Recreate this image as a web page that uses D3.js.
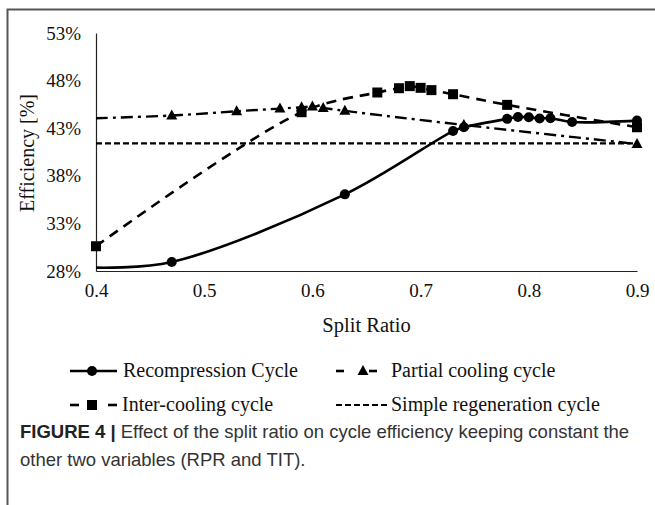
<!DOCTYPE html>
<html>
<head>
<meta charset="utf-8">
<script src="https://cdn.jsdelivr.net/npm/d3@7"></script>
<style>
  body { margin: 0; background: #fff; }
  svg { display: block; }
  text { font-family: "Liberation Serif", "Times New Roman", serif; fill: #111; }
  .caption text { font-family: "Liberation Sans", Arial, sans-serif; fill: #333; }
</style>
</head>
<body>
<svg id="chart" width="655" height="505"></svg>
<script>
// --- data ---
const recompX = [0.40, 0.47, 0.63, 0.73, 0.74, 0.78, 0.79, 0.80, 0.81, 0.82, 0.84, 0.90];
const recompY = [28.35, 28.95, 36.05, 42.7, 43.1, 43.98, 44.18, 44.15, 44.02, 44.05, 43.65, 43.8];

const partialX = [0.40, 0.47, 0.53, 0.57, 0.59, 0.60, 0.61, 0.63, 0.74, 0.90];
const partialY = [44.05, 44.33, 44.78, 45.06, 45.2, 45.27, 45.13, 44.82, 43.34, 41.34];

const interX = [0.40, 0.59, 0.66, 0.68, 0.69, 0.70, 0.71, 0.73, 0.78, 0.90];
const interY = [30.6, 44.68, 46.75, 47.2, 47.42, 47.24, 47.0, 46.57, 45.45, 43.1];

const simpleX = [0.40, 0.90];
const simpleY = [41.4, 41.4];

const xTicks = [0.4, 0.5, 0.6, 0.7, 0.8, 0.9];
const yTicks = [28, 33, 38, 43, 48, 53];

const seriesNames = ["Recompression Cycle", "Partial cooling cycle", "Inter-cooling cycle", "Simple regeneration cycle"];

const zip = (xs, ys) => xs.map((x, i) => ({ x, y: ys[i] }));

// style per series (markFrom: first point index that carries a marker)
const series = [
  { name: seriesNames[0], pts: zip(recompX, recompY), dash: null, width: 2.6, marker: "circle", markFrom: 1 },
  { name: seriesNames[1], pts: zip(partialX, partialY), dash: "12,5,3,5", width: 2.4, marker: "triangle", markFrom: 1 },
  { name: seriesNames[2], pts: zip(interX, interY), dash: "10,7", width: 2.6, marker: "square", markFrom: 0 },
  { name: seriesNames[3], pts: zip(simpleX, simpleY), dash: "6,3", width: 2.2, marker: null, markFrom: 0 }
];

const svg = d3.select("#chart");

// outer frame (top + left rule)
svg.append("path")
  .attr("d", "M7.5,505 V9.5 H655")
  .attr("fill", "none").attr("stroke", "#555").attr("stroke-width", 2);

const x = d3.scaleLinear().domain([0.4, 0.9]).range([96, 637]);
const y = d3.scaleLinear().domain([28, 53]).range([271, 33]);

// axes
const gx = svg.append("g").attr("transform", `translate(0,${y(28)})`)
  .call(d3.axisBottom(x).tickValues(xTicks).tickSize(0).tickPadding(13).tickFormat(d3.format(".1f")))
  .attr("font-family", "Liberation Serif").attr("font-size", 19);
gx.select(".domain").attr("stroke", "#222").attr("stroke-width", 1.2);
gx.selectAll("text").attr("fill", "#111");

const gy = svg.append("g").attr("transform", `translate(${x(0.4)},0)`)
  .call(d3.axisLeft(y).tickValues(yTicks).tickSize(0).tickPadding(15).tickFormat(d => d + "%"))
  .attr("font-family", "Liberation Serif").attr("font-size", 19);
gy.select(".domain").attr("stroke", "#222").attr("stroke-width", 1.2);
gy.selectAll("text").attr("fill", "#111");

// axis titles
svg.append("text")
  .attr("x", x(0.65)).attr("y", 332)
  .attr("text-anchor", "middle").style("font-size", "20.5px")
  .text("Split Ratio");
svg.append("text")
  .attr("transform", `translate(34,${y(40.4)}) rotate(-90)`)
  .attr("text-anchor", "middle").style("font-size", "20px")
  .text("Efficiency [%]");

// lines
const line = d3.line().x(d => x(d.x)).y(d => y(d.y)).curve(d3.curveCatmullRom.alpha(0.5));

function drawMarker(g, type, cx, cy) {
  if (type === "circle") {
    g.append("circle").attr("cx", cx).attr("cy", cy).attr("r", 5).attr("fill", "#000");
  } else if (type === "square") {
    g.append("rect").attr("x", cx - 5).attr("y", cy - 5).attr("width", 10).attr("height", 10).attr("fill", "#000");
  } else if (type === "triangle") {
    g.append("path").attr("d", `M${cx},${cy - 6} L${cx + 5.5},${cy + 4} L${cx - 5.5},${cy + 4} Z`).attr("fill", "#000");
  }
}

// draw in back-to-front order similar to reference
const order = [3, 1, 2, 0];
order.forEach(i => {
  const s = series[i];
  svg.append("path")
    .datum(s.pts)
    .attr("d", line)
    .attr("fill", "none")
    .attr("stroke", "#000")
    .attr("stroke-width", s.width)
    .attr("stroke-dasharray", s.dash);
  const mg = svg.append("g");
  if (s.marker) s.pts.slice(s.markFrom).forEach(p => drawMarker(mg, s.marker, x(p.x), y(p.y)));
});

// legend
const legendPos = [
  { lx: 70, ly: 371 }, { lx: 336, ly: 371 },
  { lx: 70, ly: 405 }, { lx: 336, ly: 405 }
];
const legendTextX = [123, 391, 122, 391];
series.forEach((s, i) => {
  const { lx, ly } = legendPos[i];
  const g = svg.append("g");
  if (i === 0) {
    g.append("line").attr("x1", lx).attr("x2", lx + 47).attr("y1", ly).attr("y2", ly)
      .attr("stroke", "#000").attr("stroke-width", 2.6);
    drawMarker(g, "circle", lx + 22, ly);
  } else if (i === 1) {
    g.append("line").attr("x1", lx).attr("x2", lx + 8).attr("y1", ly).attr("y2", ly).attr("stroke", "#000").attr("stroke-width", 2.6);
    g.append("line").attr("x1", lx + 33).attr("x2", lx + 41).attr("y1", ly).attr("y2", ly).attr("stroke", "#000").attr("stroke-width", 2.6);
    drawMarker(g, "triangle", lx + 27, ly);
  } else if (i === 2) {
    g.append("line").attr("x1", lx).attr("x2", lx + 9).attr("y1", ly).attr("y2", ly).attr("stroke", "#000").attr("stroke-width", 2.6);
    g.append("line").attr("x1", lx + 38).attr("x2", lx + 47).attr("y1", ly).attr("y2", ly).attr("stroke", "#000").attr("stroke-width", 2.6);
    drawMarker(g, "square", lx + 22, ly);
  } else {
    g.append("line").attr("x1", lx).attr("x2", lx + 54).attr("y1", ly).attr("y2", ly)
      .attr("stroke", "#000").attr("stroke-width", 2).attr("stroke-dasharray", "6,3");
  }
  g.append("text").attr("x", legendTextX[i]).attr("y", ly + 6)
    .style("font-size", "20px").text(s.name);
});

// caption
const cap = svg.append("g").attr("class", "caption");
const t1 = cap.append("text").attr("x", 20).attr("y", 438).style("font-size", "18.5px");
t1.append("tspan").style("font-weight", "bold").attr("fill", "#222").text("FIGURE 4 | ");
t1.append("tspan").text("Effect of the split ratio on cycle efficiency keeping constant the");
cap.append("text").attr("x", 20).attr("y", 466).style("font-size", "18.5px")
  .text("other two variables (RPR and TIT).");
</script>
</body>
</html>
